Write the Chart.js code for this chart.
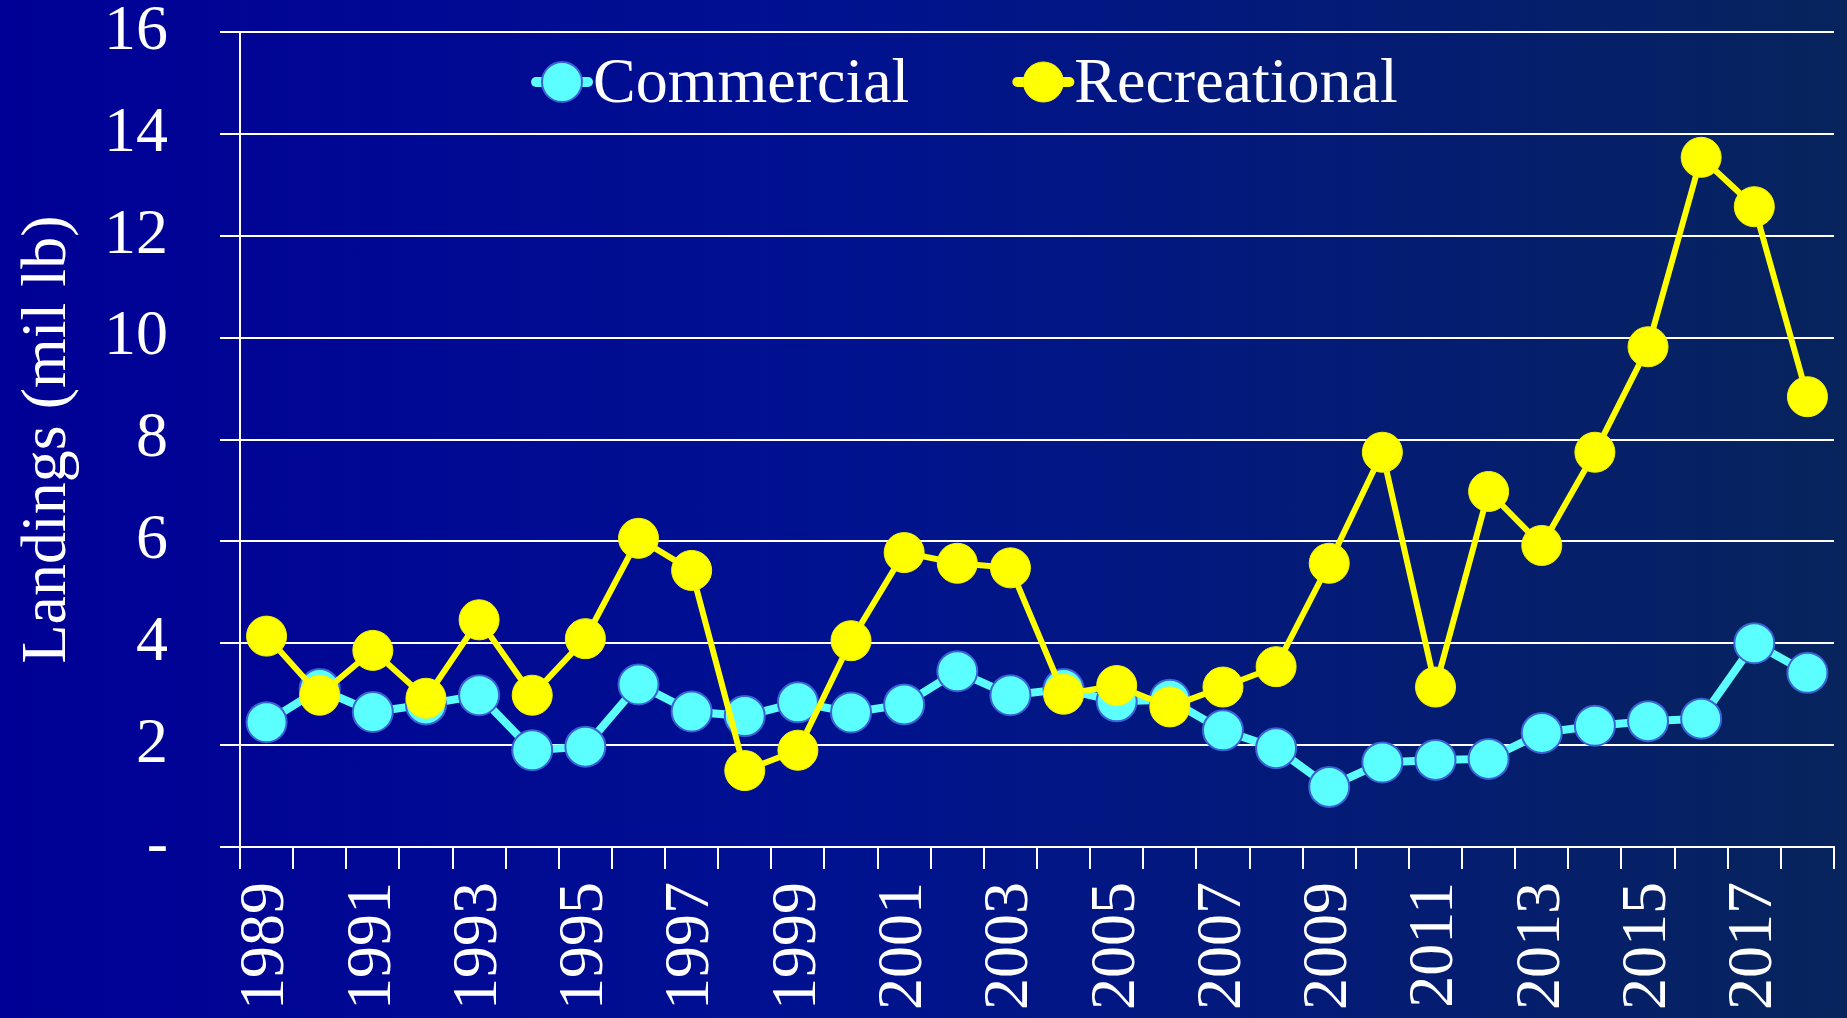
<!DOCTYPE html>
<html>
<head>
<meta charset="utf-8">
<title>Landings</title>
<script src="https://cdn.jsdelivr.net/npm/chart.js@4.4.1/dist/chart.umd.min.js"></script>
<style>
  html, body { margin: 0; padding: 0; }
  body {
    width: 1847px; height: 1018px; overflow: hidden;
    background: linear-gradient(to right, #000096 0%, #001290 45%, #07245c 100%);
  }
  #wrap { position: relative; width: 1847px; height: 1018px; }
</style>
</head>
<body>
<div id="wrap"><canvas id="landChart"></canvas></div>
<script>
const years = ['1989', '1990', '1991', '1992', '1993', '1994', '1995', '1996', '1997', '1998',
  '1999', '2000', '2001', '2002', '2003', '2004', '2005', '2006', '2007', '2008',
  '2009', '2010', '2011', '2012', '2013', '2014', '2015', '2016', '2017', '2018'];

const commercial = [2.45, 3.1, 2.65, 2.8, 2.98, 1.9, 1.97, 3.19, 2.66, 2.57,
  2.84, 2.64, 2.8, 3.45, 2.98, 3.1, 2.86, 2.89, 2.29, 1.94,
  1.18, 1.66, 1.71, 1.73, 2.24, 2.38, 2.47, 2.52, 4.0, 3.42];

const recreational = [4.14, 2.98, 3.86, 2.92, 4.46, 2.98, 4.09, 6.06, 5.43, 1.5,
  1.9, 4.05, 5.78, 5.57, 5.48, 3.0, 3.17, 2.75, 3.14, 3.54,
  5.57, 7.75, 3.14, 6.98, 5.92, 7.75, 9.82, 13.54, 12.57, 8.84];

const yTicks = [0, 2, 4, 6, 8, 10, 12, 14, 16];

const serif = "'Liberation Serif', 'Times New Roman', serif";
const white = '#ffffff';

// legend sits inside the plot, above the lines
const lineLegend = {
  id: 'lineLegend',
  afterDatasetsDraw(chart) {
    const ctx = chart.ctx;
    const area = chart.chartArea;
    const cy = area.top + 50;
    let x = area.left + 292;
    ctx.save();
    ctx.font = '64px ' + serif;
    ctx.textBaseline = 'alphabetic';
    ctx.textAlign = 'left';
    chart.data.datasets.forEach((ds) => {
      const cx = x + 30;
      ctx.strokeStyle = ds.borderColor;
      ctx.lineWidth = 10;
      ctx.lineCap = 'round';
      ctx.beginPath();
      ctx.moveTo(cx - 26, cy);
      ctx.lineTo(cx + 26, cy);
      ctx.stroke();
      ctx.beginPath();
      ctx.arc(cx, cy, ds.pointRadius, 0, Math.PI * 2);
      ctx.fillStyle = ds.pointBackgroundColor;
      ctx.fill();
      ctx.lineWidth = ds.pointBorderWidth;
      ctx.strokeStyle = ds.pointBorderColor;
      ctx.stroke();
      ctx.fillStyle = white;
      ctx.fillText(ds.label, cx + 31, cy + 20);
      x = cx + 31 + ctx.measureText(ds.label).width + 104;
    });
    ctx.restore();
  }
};

new Chart('landChart', {
  type: 'line',
  data: {
    labels: years,
    datasets: [{
      label: 'Commercial',
      data: commercial,
      borderColor: '#5cffff',
      borderWidth: 8,
      pointRadius: 20,
      pointBackgroundColor: '#5cffff',
      pointBorderColor: '#3a62d6',
      pointBorderWidth: 2,
      tension: 0,
      order: 2
    }, {
      label: 'Recreational',
      data: recreational,
      borderColor: '#ffff00',
      borderWidth: 6,
      pointRadius: 20,
      pointBackgroundColor: '#ffff00',
      pointBorderColor: '#f4f400',
      pointBorderWidth: 1,
      tension: 0,
      order: 1
    }]
  },
  options: {
    responsive: true,
    maintainAspectRatio: false,
    animation: false,
    layout: { autoPadding: false, padding: { top: 32, right: 13, left: 0, bottom: 0 } },
    plugins: {
      legend: { display: false },
      tooltip: { enabled: false }
    },
    scales: {
      x: {
        offset: true,
        grid: { offset: true, drawOnChartArea: false, color: white, lineWidth: 2, tickLength: 22 },
        border: { color: white, width: 2 },
        ticks: {
          color: white,
          font: { family: serif, size: 64 },
          minRotation: 90,
          maxRotation: 90,
          autoSkip: false,
          padding: 13,
          callback: function (v, i) { return i % 2 === 0 ? this.getLabelForValue(v) : ''; }
        },
        afterFit: (s) => {
          s.height = 171;
          s.paddingLeft = 0;
          s.paddingRight = 0;
        }
      },
      y: {
        min: yTicks[0],
        max: yTicks[yTicks.length - 1],
        afterBuildTicks: (s) => { s.ticks = yTicks.map(v => ({ value: v })); },
        grid: { color: white, lineWidth: 2, tickLength: 20 },
        border: { color: white, width: 2 },
        ticks: {
          color: white,
          font: { family: serif, size: 64 },
          padding: 52,
          callback: (v) => v === 0 ? '-' : v
        },
        title: {
          display: true,
          text: 'Landings (mil lb)',
          color: white,
          font: { family: serif, size: 64 },
          padding: { top: 10, bottom: 0 }
        },
        afterFit: (s) => {
          s.width = 240;
          s.paddingTop = 0;
          s.paddingBottom = 0;
        }
      }
    }
  },
  plugins: [lineLegend]
});
</script>
</body>
</html>
